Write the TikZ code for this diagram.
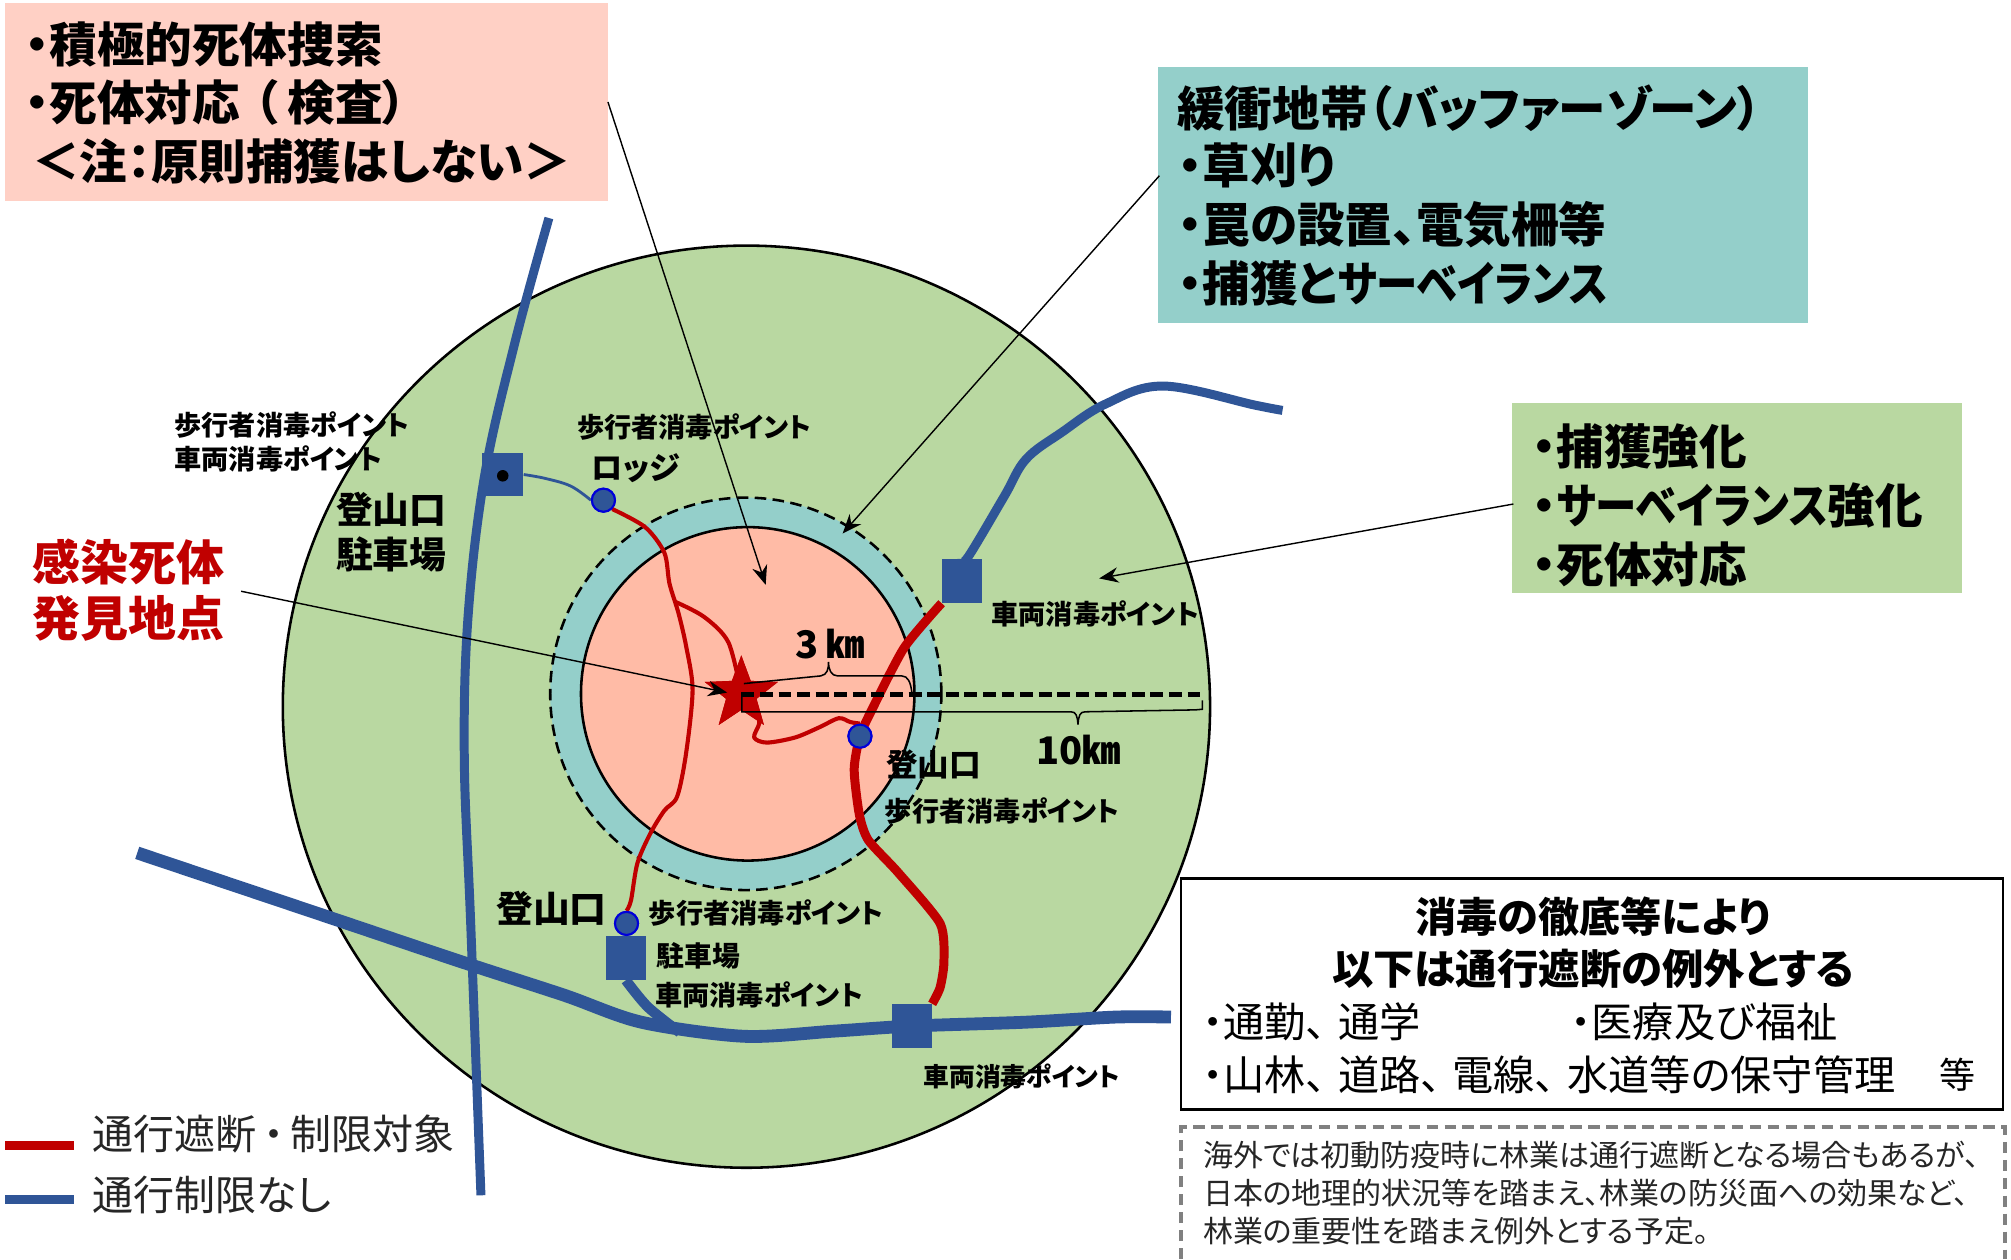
\documentclass[tikz,border=0pt]{standalone}
\usepackage{fontspec}
\usepackage{graphicx}
\usetikzlibrary{shapes.geometric,arrows.meta}
\setmainfont{Noto Sans CJK JP}[RawFeature=+palt]
\definecolor{zgreen}{HTML}{B9D8A1}
\definecolor{zteal}{HTML}{94CFCA}
\definecolor{zpink}{HTML}{FFBBA6}
\definecolor{zlpink}{HTML}{FFD0C5}
\definecolor{zblue}{HTML}{2F5597}
\definecolor{zred}{HTML}{C00000}
\newcommand\pxu{0.64125pt}
\newcommand\fz[1]{\fontsize{#1}{#1}\selectfont}
\newcommand\kk[1]{\scalebox{0.87}[1]{#1}}
\newcommand\tou{、\hspace{0.28em}}
\tikzset{
  x=0.64125pt,y=-0.64125pt,
  lbl/.style={inner sep=0pt,outer sep=0pt,anchor=west,font=\bfseries\fz{13.6}},
  big/.style={lbl,font=\bfseries\fz{23.8}},
  mid/.style={lbl,font=\bfseries\fz{18.4}},
  box/.style={inner sep=0pt,outer sep=0pt,anchor=north west},
  road/.style={draw=zblue,line width=7*\pxu,line join=round},
  redthin/.style={draw=zred,line width=3.2*\pxu,line join=round},
  redthick/.style={draw=zred,line width=7*\pxu,line join=round},
  sq/.style={fill=zblue,draw=none,inner sep=0pt,minimum width=31*\pxu,minimum height=34*\pxu},
  gate/.style={circle,fill=zblue,draw=blue!85!black,line width=1.6*\pxu,inner sep=0pt,minimum size=18*\pxu},
  pointer/.style={draw=black,line width=1.1*\pxu,-{Stealth[length=15*\pxu,width=12*\pxu]}},
  brace/.style={draw=black,line width=1.2*\pxu},
  starshape/.style={star,star points=5,star point ratio=2.4,fill=zred,inner sep=0pt,outer sep=0pt,minimum size=60*\pxu},
}
\begin{document}
\begin{tikzpicture}
\useasboundingbox (0,0) rectangle (1568,981.7);
\fill[white] (0,0) rectangle (1568,981.7);
% zones
\node[ellipse,draw=black,line width=2*\pxu,fill=zgreen,inner sep=0pt,minimum width=723*\pxu,minimum height=719*\pxu] (outer) at (582,551) {};
\node[ellipse,draw=black,dash pattern=on 9*\pxu off 5*\pxu,line width=2*\pxu,fill=zteal,inner sep=0pt,minimum width=305*\pxu,minimum height=306*\pxu] (buffer) at (581.5,541) {};
\node[ellipse,draw=black,line width=2*\pxu,fill=zpink,inner sep=0pt,minimum width=260*\pxu,minimum height=260*\pxu] (core) at (583,541) {};
% text boxes
\node[box,fill=zlpink,minimum width=470*\pxu,minimum height=155*\pxu] (pinkbox) at (4,2) {};
\node[box,fill=zteal,minimum width=507*\pxu,minimum height=200*\pxu] (tealbox) at (903,52) {};
\node[box,fill=zgreen,minimum width=351*\pxu,minimum height=148*\pxu] (greenbox) at (1179,314) {};
\node[box,draw=black,fill=white,line width=1.8*\pxu,minimum width=641*\pxu,minimum height=180*\pxu] (whitebox) at (921,685) {};
\coordinate (dashbl) at (921,981.7);
\coordinate (dashtl) at (921,879);
\coordinate (dashtr) at (1563,879);
\coordinate (dashbr) at (1563,981.7);
\draw[draw=gray,dash pattern=on 9*\pxu off 5*\pxu,line width=3*\pxu] (dashbl) -- (dashtl) -- (dashtr) -- (dashbr);
% points
\node[starshape] (starpt) at (578,541) {};
\coordinate (r0) at (578,541.5);
\coordinate (r3) at (938,541.5);
\node[sq,minimum width=32*\pxu,minimum height=34*\pxu] (sqA) at (392,370) {};
\node[sq] (sqB) at (750,453) {};
\node[sq] (sqC) at (488,747) {};
\node[sq] (sqD) at (711,800) {};
\node[circle,fill=black,inner sep=0pt,minimum size=9*\pxu] (dotA) at (392,371) {};
\node[gate] (gA) at (470.5,390) {};
\node[gate] (gB) at (670.5,574) {};
\node[gate] (gC) at (488.5,720) {};
% roads
\draw[road] plot[smooth,tension=0.6] coordinates {(428,170) (402,265) (378,370) (365,480) (362,590) (367,720) (375,932)};
\draw[road,line width=10*\pxu] plot[smooth,tension=0.5] coordinates {(107,665) (250,713) (360,750) (440,776) (500,797) (580,808) (650,804) (711,800) (800,797) (870,793) (913,793)};
\draw[road] plot[smooth,tension=0.6] coordinates {(sqB.north) (755,434) (783,387) (800,358) (828,337) (862,315) (907,301) (979,316) (1000,320)};
\draw[road,line width=8*\pxu] plot[smooth,tension=0.5] coordinates {(sqC.south) (505,785) (530,805)};
\draw[draw=zblue,line width=2.2*\pxu] plot[smooth,tension=0.6] coordinates {(sqA.east) (425,373) (445,379) (gA.west)};
% red routes
\draw[redthin] plot[smooth,tension=0.5] coordinates {(gA.south east) (503,411) (518,431) (522,455) (529,478) (535,504) (540,538) (535,587) (528,621) (518,632) (507,650) (497,673) (492,702) (gC.north)};
\draw[redthin] plot[smooth,tension=0.5] coordinates {(526,469) (549,481) (568,501) (starpt.center)};
\draw[redthin] plot[smooth,tension=0.5] coordinates {(starpt.center) (590,556) (592,564) (588,575) (598,579) (620,575) (639,567) (654,560) (663,563) (gB.north)};
\draw[redthick] plot[smooth,tension=0.4] coordinates {(sqB.south west) (705,505) (680,553) (gB.center) (666,600) (670,635) (677,655) (700,680) (733,720) (736,750) (733,770) (sqD.north east)};
% gates again on top of the routes
\node[gate] (gBtop) at (gB) {};
\node[gate] (gCtop) at (gC) {};
\node[gate] (gAtop) at (gA) {};
% star on top
\node[starshape] (startop) at (starpt) {};
% radius
\draw[draw=black,line width=4*\pxu,dash pattern=on 10*\pxu off 4.5*\pxu] (r0) -- (r3);
\coordinate (b3a) at (580,533);
\coordinate (b3b) at (711,540);
\coordinate (b3tip) at (646,516);
\draw[brace] (b3a) -- (640,527) .. controls (645,526) and (646,522) .. (b3tip) .. controls (646,522) and (648,527) .. (653,527) -- (703,527) .. controls (708,527) and (710,532) .. (b3b);
\coordinate (b10a) at (578.5,541);
\coordinate (b10b) at (937.5,546);
\coordinate (b10tip) at (840.5,565);
\draw[brace] (b10a) -- (578.5,555) -- (835,555) .. controls (839,555) and (840,558) .. (b10tip) .. controls (841,558) and (842,555) .. (846,555) -- (932,553.5) -- (937.5,553) -- (b10b);
% pointers
\coordinate (ptA) at (597,456);
\coordinate (ptB) at (657,416);
\coordinate (ptC) at (857,451);
\coordinate (ptD) at (567,540);
\coordinate (srcB) at (904,137);
\coordinate (srcC) at (1180,393);
\coordinate (srcD) at (188,461);
\draw[pointer] (pinkbox.east) -- (ptA);
\draw[pointer] (srcB) -- (ptB);
\draw[pointer] (srcC) -- (ptC);
\draw[pointer] (srcD) -- (ptD);
% pink box
\node[big] (p1) at (20,35) {・積極的死体捜索};
\node[big] (p2) at (20,80) {・死体対応\hspace{0.3em}（\hspace{0.2em}検査）};
\node[big] (p3) at (25,126) {＜注：原則捕獲はしない＞};
% teal box
\node[big] (t0) at (918,84) {緩衝地帯（バッファーゾーン）};
\node[big] (t1) at (919,129) {・草刈り};
\node[big] (t2) at (919,175) {・罠の設置、電気柵等};
\node[big] (t3) at (919,221) {・捕獲と\kk{サーベイランス}};
% green box
\node[big] (g1) at (1195,348) {・捕獲強化};
\node[big] (g2) at (1195,394) {・\kk{サーベイランス}強化};
\node[big] (g3) at (1195,440) {・死体対応};
% map labels
\node[lbl] (l1) at (136,331) {歩行者消毒ポイント};
\node[lbl] (l2) at (136,358) {車両消毒ポイント};
\node[mid] (l3) at (262,397) {登山口};
\node[mid] (l4) at (262,432) {駐車場};
\node[lbl] (l5) at (450,333) {歩行者消毒ポイント};
\node[lbl,font=\bfseries\fz{15.6}] (l6) at (461,365) {ロッジ};
\node[lbl,font=\bfseries\fz{24},text=zred] (l7) at (25,438) {感染死体};
\node[lbl,font=\bfseries\fz{24},text=zred] (l8) at (25,482) {発見地点};
\node[lbl,font=\bfseries\fz{19}] (l9) at (620,502) {3 ㎞};
\node[lbl,font=\bfseries\fz{19}] (l10) at (808,585) {10㎞};
\node[lbl] (l11) at (773,479) {車両消毒ポイント};
\node[lbl,font=\bfseries\fz{15.8}] (l12) at (691,596) {登山口};
\node[lbl] (l13) at (690,632) {歩行者消毒ポイント};
\node[mid] (l14) at (387,708) {登山口};
\node[lbl] (l15) at (506,712) {歩行者消毒ポイント};
\node[lbl,font=\bfseries\fz{13.9}] (l16) at (512,745) {駐車場};
\node[lbl] (l17) at (511,776) {車両消毒ポイント};
\node[lbl,font=\bfseries\fz{12.9}] (l18) at (720,839) {車両消毒ポイント};
% legend
\coordinate (lgA) at (4,893);
\coordinate (lgB) at (58,893);
\coordinate (lgC) at (4,935);
\coordinate (lgD) at (58,935);
\draw[redthick] (lgA) -- (lgB);
\draw[road] (lgC) -- (lgD);
\node[lbl,font=\fz{20.5},text=black!85] (k1) at (72,884) {通行遮断\hspace{0.17em}・\hspace{0.17em}制限対象};
\node[lbl,font=\fz{20.5},text=black!85] (k2) at (72,932) {通行制限なし};
% white box text
\node[lbl,anchor=center,font=\bfseries\fz{20.6}] (w1) at (1242,715) {消毒の徹底等により};
\node[lbl,anchor=center,font=\bfseries\fz{20.7}] (w2) at (1242,755) {以下は通行遮断の例外とする};
\node[lbl,font=\fz{20.6}] (w3) at (938,797) {・通勤\tou 通学};
\node[lbl,font=\fz{20.6}] (w4) at (1225,797) {・医療及び福祉};
\node[lbl,font=\fz{20.6}] (w5) at (938,838) {・山林\tou 道路\tou 電線\tou 水道等の保守管理};
\node[lbl,font=\fz{18}] (w6) at (1512,838) {等};
% note
\node[lbl,font=\fz{15},text=black!85] (n1) at (938,901) {海外では初動防疫時に林業は通行遮断となる場合もあるが、};
\node[lbl,font=\fz{15},text=black!85] (n2) at (938,930) {日本の地理的状況等を踏まえ、林業の防災面への効果など、};
\node[lbl,font=\fz{15},text=black!85] (n3) at (938,960) {林業の重要性を踏まえ例外とする予定。};
\end{tikzpicture}
\end{document}
